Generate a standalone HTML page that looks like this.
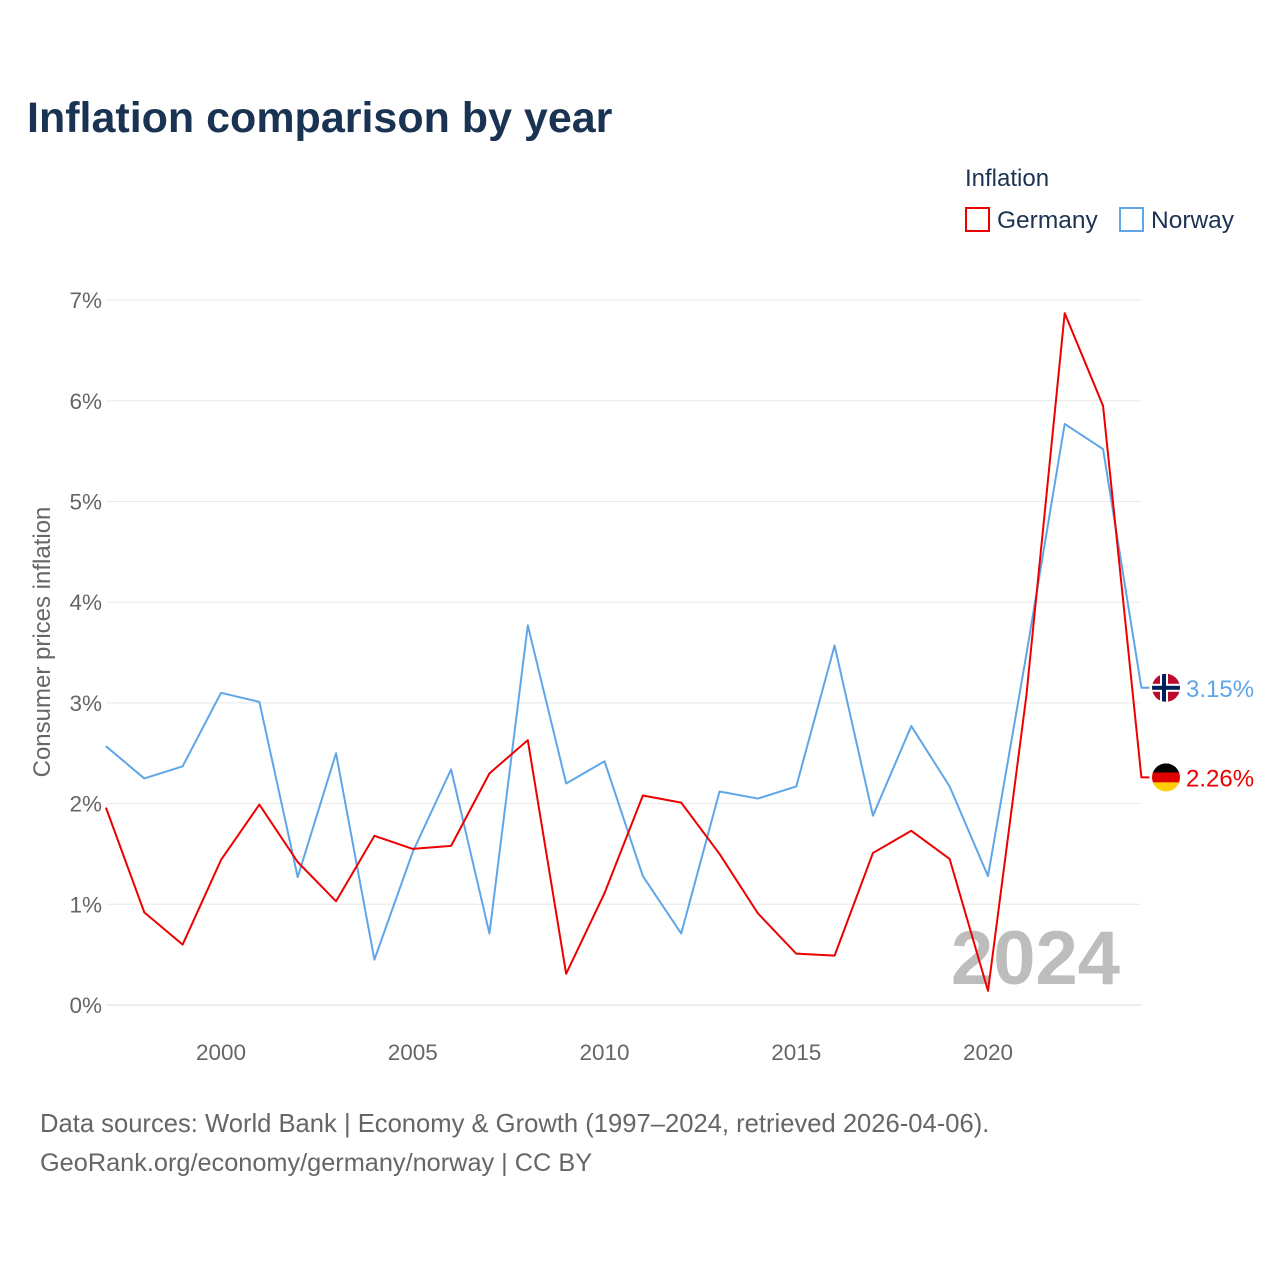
<!DOCTYPE html>
<html><head><meta charset="utf-8">
<style>
body{margin:0;background:#fff;font-family:"Liberation Sans",sans-serif;}
svg text{font-family:"Liberation Sans",sans-serif;}
</style></head>
<body>
<svg width="1280" height="1280" viewBox="0 0 1280 1280">
<text x="27" y="132" font-size="43" font-weight="bold" fill="#1b3353">Inflation comparison by year</text>
<g>
<text x="965" y="186" font-size="24" fill="#1b3353">Inflation</text>
<g><rect x="966" y="208" width="23" height="23" fill="none" stroke="#ee0000" stroke-width="2"/><text x="997" y="228" font-size="24.5" fill="#1b3353">Germany</text></g>
<g><rect x="1120" y="208" width="23" height="23" fill="none" stroke="#5ea6e8" stroke-width="2"/><text x="1151" y="228" font-size="24.5" fill="#1b3353">Norway</text></g>
</g>
<g id="grid"></g>
<g id="yticks"></g>
<g id="xticks"></g>
<text transform="translate(50,642) rotate(-90)" text-anchor="middle" font-size="24" fill="#666">Consumer prices inflation</text>
<text x="1120" y="984" text-anchor="end" font-size="76" font-weight="bold" fill="#bdbdbd">2024</text>
<g id="series"></g>
<text x="40" y="1132" font-size="25.6" fill="#666">Data sources: World Bank | Economy &amp; Growth (1997–2024, retrieved 2026-04-06).</text>
<text x="40" y="1171" font-size="25.3" fill="#666">GeoRank.org/economy/germany/norway | CC BY</text>
</svg>
<script>
const years=[1997,1998,1999,2000,2001,2002,2003,2004,2005,2006,2007,2008,2009,2010,2011,2012,2013,2014,2015,2016,2017,2018,2019,2020,2021,2022,2023,2024];
const germany=[1.96,0.92,0.60,1.44,1.99,1.42,1.03,1.68,1.55,1.58,2.30,2.63,0.31,1.11,2.08,2.01,1.50,0.91,0.51,0.49,1.51,1.73,1.45,0.14,3.07,6.87,5.95,2.26];
const norway=[2.57,2.25,2.37,3.10,3.01,1.27,2.50,0.45,1.52,2.34,0.71,3.77,2.20,2.42,1.28,0.71,2.12,2.05,2.17,3.57,1.88,2.77,2.17,1.28,3.48,5.77,5.52,3.15];
const yTicks=[0,1,2,3,4,5,6,7];
const xTicks=[2000,2005,2010,2015,2020];
const NS="http://www.w3.org/2000/svg";
const X=y=>221+(y-2000)*38.35;
const Y=v=>1005-v*100.7;
function mk(tag,attrs,parent){const e=document.createElementNS(NS,tag);for(const k in attrs)e.setAttribute(k,attrs[k]);parent.appendChild(e);return e;}
const grid=document.getElementById('grid'),yt=document.getElementById('yticks'),xt=document.getElementById('xticks'),ser=document.getElementById('series');
yTicks.forEach(t=>{
  const l=mk('line',{x1:106,x2:1141,y1:Y(t),y2:Y(t),stroke:t===0?'#ddd':'#e8e8e8','stroke-width':1},grid);
  
  
  const tx=mk('text',{x:102,y:Y(t)+8,'text-anchor':'end','font-size':22.5,fill:'#666'},yt);
  tx.textContent=t+'%';
  
  
});
xTicks.forEach(t=>{
  const tx=mk('text',{x:X(t),y:1060,'text-anchor':'middle','font-size':22.5,fill:'#666'},xt);
  tx.textContent=t;
  
  
});
function line(vals,color,name){
  const p=mk('polyline',{points:vals.map((v,i)=>X(years[i])+','+Y(v)).join(' ')+' '+(X(years[years.length-1])+8)+','+Y(vals[vals.length-1]),fill:'none',stroke:color,'stroke-width':2,'stroke-linejoin':'round'},ser);
  
  
}
line(norway,'#5ea6e8','norway-line');
line(germany,'#ee0000','germany-line');
function endLabel(v,color,name,flag){
  const y=Y(v),cx=1166;
  const g=mk('g',{},ser);
  
  
  const cp=mk('clipPath',{id:'c'+name},g);mk('circle',{cx:cx,cy:y,r:14},cp);
  const f=mk('g',{'clip-path':'url(#c'+name+')'},g);
  if(flag==='de'){
    mk('rect',{x:cx-14,y:y-14,width:28,height:10,fill:'#000'},f);
    mk('rect',{x:cx-14,y:y-5,width:28,height:10,fill:'#dd0000'},f);
    mk('rect',{x:cx-14,y:y+5,width:28,height:10,fill:'#ffce00'},f);
  }else{
    mk('rect',{x:cx-14,y:y-14,width:28,height:28,fill:'#ba0c2f'},f);
    mk('rect',{x:cx-14,y:y-4,width:28,height:8,fill:'#fff'},f);
    mk('rect',{x:cx-6,y:y-14,width:8,height:28,fill:'#fff'},f);
    mk('rect',{x:cx-14,y:y-2,width:28,height:4,fill:'#00205b'},f);
    mk('rect',{x:cx-4,y:y-14,width:4,height:28,fill:'#00205b'},f);
  }
  const t=mk('text',{x:1186,y:y+9,'font-size':24,fill:color},g);
  t.textContent=v.toFixed(2)+'%';
}
endLabel(norway[norway.length-1],'#5ea6e8','norway','no');
endLabel(germany[germany.length-1],'#ee0000','germany','de');
</script>
</body></html>
